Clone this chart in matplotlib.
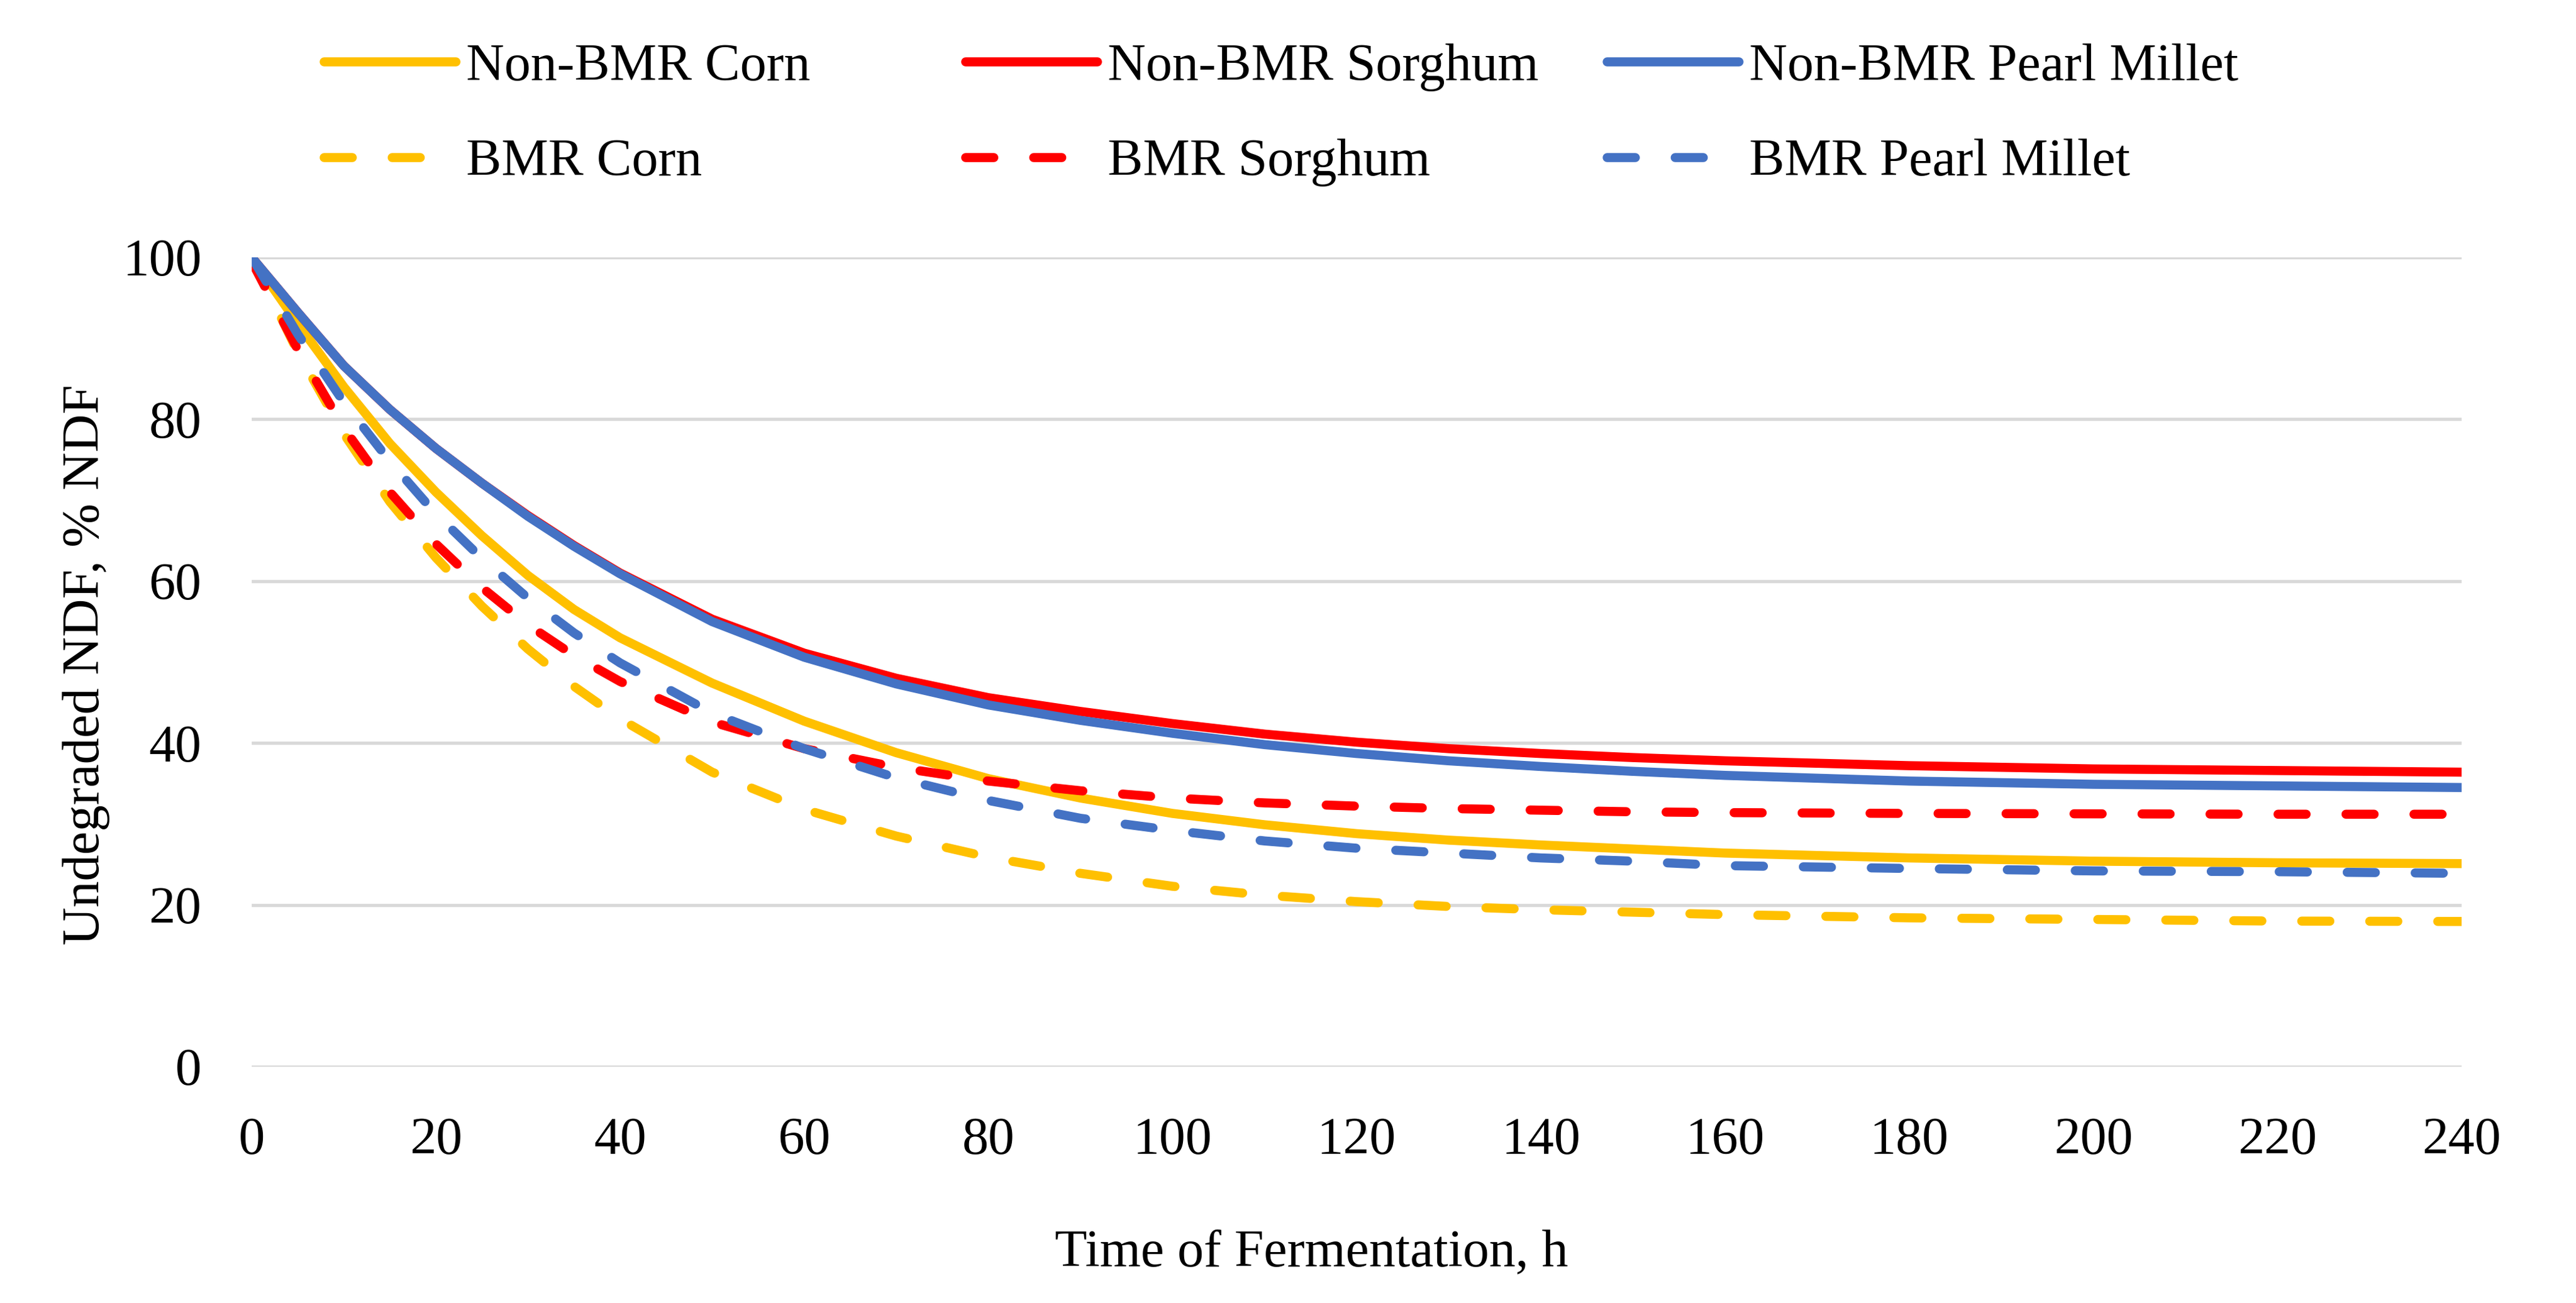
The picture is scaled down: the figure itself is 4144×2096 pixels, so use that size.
import matplotlib
matplotlib.use("Agg")
import matplotlib.pyplot as plt

# hours of fermentation
hours = [0, 5, 10, 15, 20, 25, 30, 35, 40, 50, 60, 70, 80, 90, 100, 110, 120,
         130, 140, 150, 160, 180, 200, 220, 240]

# undegraded NDF, % NDF
non_bmr_corn = [100, 91.8, 84.0, 77.0, 71.0, 65.6, 60.7, 56.5, 53.0, 47.4, 42.7, 38.8, 35.6,
                33.2, 31.3, 29.9, 28.8, 28.0, 27.4, 26.9, 26.4, 25.8, 25.4, 25.2, 25.1]
bmr_corn = [100, 88.3, 78.2, 69.8, 62.9, 56.9, 51.6, 47.0, 43.0, 36.4, 31.8, 28.5, 25.9,
            23.9, 22.3, 21.2, 20.4, 19.8, 19.4, 19.1, 18.8, 18.4, 18.2, 18.0, 17.95]
non_bmr_sorghum = [100, 93.2, 86.6, 81.2, 76.4, 72.1, 68.1, 64.4, 61.0, 55.3, 51.1, 48.0, 45.6,
                   43.9, 42.4, 41.1, 40.1, 39.3, 38.7, 38.2, 37.8, 37.2, 36.8, 36.6, 36.4]
bmr_sorghum = [99.5, 88.6, 78.9, 71.0, 64.6, 59.2, 54.6, 50.8, 47.6, 42.6, 39.3, 37.0, 35.3,
               34.1, 33.2, 32.6, 32.2, 31.9, 31.7, 31.5, 31.4, 31.3, 31.25, 31.2, 31.2]
non_bmr_millet = [100, 93.2, 86.6, 81.2, 76.4, 72.1, 68.0, 64.3, 60.9, 55.0, 50.6, 47.3, 44.7,
                  42.8, 41.2, 39.8, 38.7, 37.8, 37.1, 36.5, 36.0, 35.3, 34.9, 34.7, 34.5]
bmr_millet = [100, 90.5, 82.1, 74.8, 68.3, 62.8, 57.9, 53.6, 49.9, 43.7, 39.3, 35.7, 32.9,
              30.7, 29.2, 27.9, 27.0, 26.4, 25.8, 25.4, 24.85, 24.5, 24.2, 24.1, 23.9]

x_ticks = list(range(0, 241, 20))
y_ticks = list(range(0, 101, 20))

YELLOW = "#FFC000"
RED = "#FF0000"
BLUE = "#4472C4"

plt.rcParams["font.family"] = ["Liberation Serif", "DejaVu Serif"]
FS = 61

fig = plt.figure(figsize=(41.44, 20.96), dpi=100)
ax = fig.add_axes([405 / 4144, 1 - 1716 / 2096, (3960 - 405) / 4144, (1716 - 414) / 2096])

lw = 10.5
dash = (3.1, 4.4)

l1, = ax.plot(hours, non_bmr_corn, color=YELLOW, lw=lw, solid_capstyle="round", label="Non-BMR Corn")
l2, = ax.plot(hours, bmr_corn, color=YELLOW, lw=lw, dashes=dash, dash_capstyle="round", label="BMR Corn")
l3, = ax.plot(hours, non_bmr_sorghum, color=RED, lw=lw, solid_capstyle="round", label="Non-BMR Sorghum")
l4, = ax.plot(hours, bmr_sorghum, color=RED, lw=lw, dashes=dash, dash_capstyle="round", label="BMR Sorghum")
l5, = ax.plot(hours, non_bmr_millet, color=BLUE, lw=lw, solid_capstyle="round", label="Non-BMR Pearl Millet")
l6, = ax.plot(hours, bmr_millet, color=BLUE, lw=lw, dashes=dash, dash_capstyle="round", label="BMR Pearl Millet")

ax.set_xlim(0, 240)
ax.set_ylim(0, 100)
ax.set_xticks(x_ticks)
ax.set_yticks(y_ticks)
ax.tick_params(length=0, labelsize=FS, pad=58, colors="black")
ax.grid(axis="y", color="#D9D9D9", lw=3.8)
ax.set_axisbelow(True)
for s in ax.spines.values():
    s.set_visible(False)

fig.text(2110 / 4144, 1 - 2017 / 2096, "Time of Fermentation, h", fontsize=FS, ha="center", va="center")
fig.text(139 / 4144, 1 - 1069 / 2096, "Undegraded NDF, % NDF", fontsize=FS, ha="center", va="center",
         rotation=90)

# one legend per column so the columns sit at fixed spacing like the original
for pair, xpos in [((l1, l2), 521), ((l3, l4), 1553), ((l5, l6), 2585)]:
    fig.legend(handles=list(pair), loc="center left", bbox_to_anchor=(xpos / 4144, 1 - 185 / 2096),
               frameon=False, fontsize=FS, handlelength=2.5, handletextpad=0.2,
               labelspacing=0.9, borderpad=0, borderaxespad=0)

fig.savefig("out.png", dpi=100)
